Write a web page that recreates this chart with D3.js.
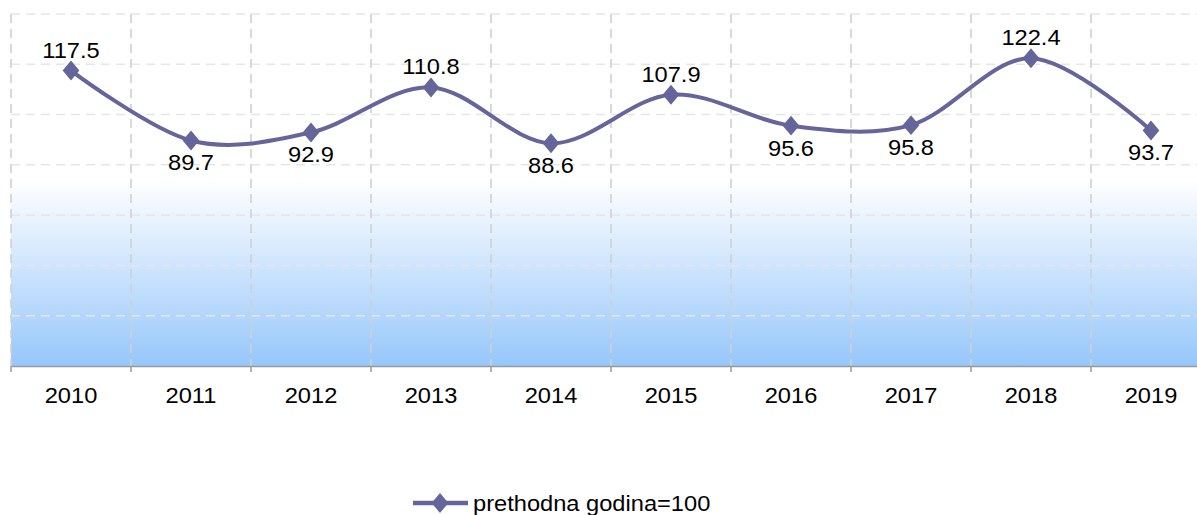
<!DOCTYPE html>
<html><head><meta charset="utf-8">
<script src="https://cdn.jsdelivr.net/npm/d3@7"></script>
<style>body{margin:0;background:#fff;overflow:hidden}svg{display:block}text{font-family:"Liberation Sans",Arial,sans-serif}</style>
</head><body>
<svg id="c" width="1197" height="515"></svg>
<script>
const categories = ["2010","2011","2012","2013","2014","2015","2016","2017","2018","2019"];
const values = [117.5, 89.7, 92.9, 110.8, 88.6, 107.9, 95.6, 95.8, 122.4, 93.7];
const labelAbove = [true,false,false,true,false,true,false,false,true,false];
const yTicks = [0,20,40,60,80,100,120,140];
const seriesName = "prethodna godina=100";

const svg = d3.select("#c");
const pL = 11, pR = 1211, pT = 14, pB = 366;
const x = d3.scaleBand().domain(categories).range([pL, pR]);
const y = d3.scaleLinear().domain([0, 140]).range([pB, pT]);
const lineColor = "#65659c";
const sx = 1.1;

const defs = svg.append("defs");
const g = defs.append("linearGradient").attr("id","bg").attr("x1",0).attr("y1",0).attr("x2",0).attr("y2",1);
g.append("stop").attr("offset","0").attr("stop-color","#ffffff");
g.append("stop").attr("offset","0.47").attr("stop-color","#ffffff");
g.append("stop").attr("offset","1").attr("stop-color","#97c7fb");

svg.append("rect").attr("x", pL).attr("y", pT).attr("width", pR-pL).attr("height", pB-pT).attr("fill","url(#bg)");

// horizontal grid
svg.append("g").selectAll("line").data(yTicks.filter(d=>d>0)).join("line")
  .attr("x1", pL).attr("x2", pR).attr("y1", d=>y(d)).attr("y2", d=>y(d))
  .attr("stroke","#e6e6e6").attr("stroke-width",1.5).attr("stroke-dasharray","9,6");
// vertical grid
svg.append("g").selectAll("line").data(categories).join("line")
  .attr("x1", d=>x(d)).attr("x2", d=>x(d)).attr("y1", pT).attr("y2", pB)
  .attr("stroke","#d0d0d0").attr("stroke-width",1.6).attr("stroke-dasharray","9,6");

// x axis
const ax = svg.append("g").attr("transform",`translate(0,${pB})`)
  .call(d3.axisBottom(x).tickSize(0).tickFormat(""));
ax.select(".domain").attr("stroke","#9a9a9a").attr("stroke-width",1.5);
svg.append("g").selectAll("line").data(categories).join("line")
  .attr("x1", d=>x(d)).attr("x2", d=>x(d)).attr("y1", pB).attr("y2", pB+6)
  .attr("stroke","#9a9a9a").attr("stroke-width",1.5);
svg.append("g").selectAll("text").data(categories).join("text")
  .attr("transform", d=>`translate(${x(d)+x.bandwidth()/2},402.5) scale(${sx},1)`)
  .attr("text-anchor","middle").attr("font-size",21.5).attr("fill","#000").text(d=>d);

// line
const pts = categories.map((c,i)=>[x(c)+x.bandwidth()/2, y(values[i])]);
const line = d3.line().curve(d3.curveCatmullRom.alpha(0));
svg.append("path").attr("d", line(pts)).attr("fill","none").attr("stroke",lineColor).attr("stroke-width",4);

const diamond = d3.symbol().type(d3.symbolDiamond).size(115);
svg.append("g").selectAll("path").data(pts).join("path")
  .attr("transform", d=>`translate(${d[0]},${d[1]}) scale(1.45,1)`)
  .attr("d", diamond).attr("fill", lineColor);

svg.append("g").selectAll("text").data(values).join("text")
  .attr("transform", (d,i)=>`translate(${pts[i][0]},${pts[i][1] + (labelAbove[i] ? -13 : 30)}) scale(${sx},1)`)
  .attr("text-anchor","middle").attr("font-size",21.5).attr("fill","#000")
  .text(d=>d.toFixed(1));

// legend
const lg = svg.append("g");
lg.append("line").attr("x1",413).attr("x2",468).attr("y1",503).attr("y2",503).attr("stroke",lineColor).attr("stroke-width",4.5);
lg.append("path").attr("transform","translate(440,503) scale(1.45,1)").attr("d",diamond).attr("fill",lineColor);
lg.append("text").attr("transform",`translate(473,511) scale(${sx},1)`).attr("font-size",21.5).attr("fill","#000").text(seriesName);
</script>
</body></html>
